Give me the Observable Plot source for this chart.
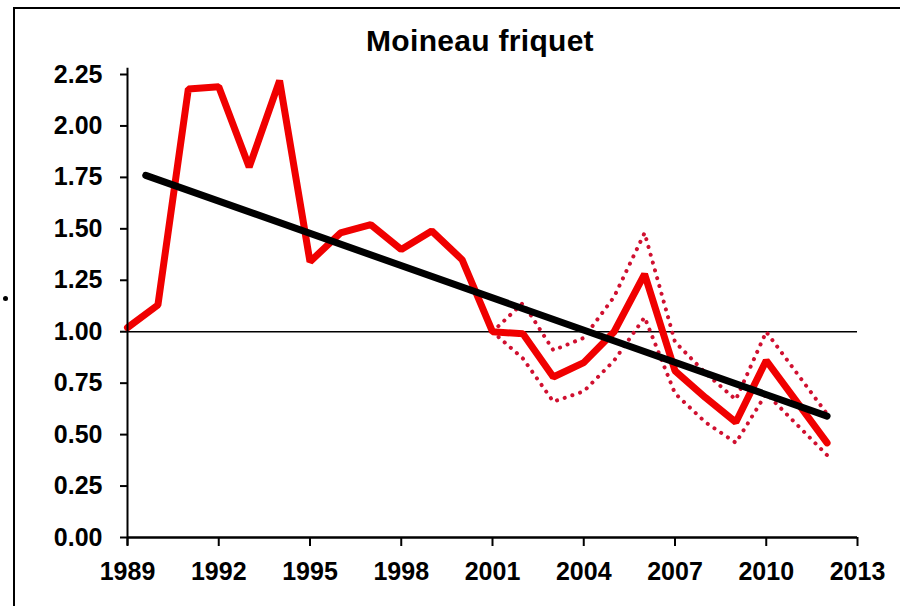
<!DOCTYPE html>
<html><head><meta charset="utf-8">
<script src="https://cdn.jsdelivr.net/npm/d3@7"></script>
<script src="https://cdn.jsdelivr.net/npm/@observablehq/plot@0.6"></script>
<style>
body{margin:0;background:#fff;font-family:"Liberation Sans",Arial,sans-serif;}
#wrap{position:relative;width:900px;height:606px;overflow:hidden;}
#frame{position:absolute;left:13px;top:7px;width:900px;height:620px;border-top:2px solid #000;border-left:2px solid #000;box-sizing:border-box;pointer-events:none;}
#dot{position:absolute;left:3px;top:296px;width:5px;height:5px;border-radius:50%;background:#000;}
#title{position:absolute;left:0;top:24px;width:960px;text-align:center;font-weight:bold;font-size:30px;letter-spacing:0.3px;line-height:34px;font-family:"Liberation Sans",Arial,sans-serif;}
#chart{position:absolute;left:0;top:60px;}
</style></head>
<body><div id="wrap"><div id="frame"></div><div id="dot"></div><div id="title">Moineau friquet</div><div id="chart"></div></div>
<script>
const years = [1989,1990,1991,1992,1993,1994,1995,1996,1997,1998,1999,2000,2001,2002,2003,2004,2005,2006,2007,2008,2009,2010,2011,2012];
const index = [1.02,1.13,2.18,2.19,1.80,2.22,1.34,1.48,1.52,1.40,1.49,1.35,1.00,0.99,0.78,0.85,1.00,1.28,0.81,0.68,0.56,0.86,0.66,0.46];
const ciYears = [2001,2002,2003,2004,2005,2006,2007,2008,2009,2010,2011,2012];
const upper = [1.00,1.14,0.91,0.97,1.17,1.48,0.95,0.80,0.67,1.00,0.80,0.60];
const lower = [1.00,0.87,0.66,0.71,0.86,1.07,0.70,0.56,0.46,0.70,0.55,0.40];
const trendYears = [1989.6,2012];
const trendValues = [1.76,0.59];
const xTicks = [1989,1992,1995,1998,2001,2004,2007,2010,2013];
const yTicks = [0,0.25,0.5,0.75,1,1.25,1.5,1.75,2,2.25];

const main = years.map((y,i)=>({year:y,v:index[i]}));
const up = ciYears.map((y,i)=>({year:y,v:upper[i]}));
const lo = ciYears.map((y,i)=>({year:y,v:lower[i]}));
const trend = trendYears.map((y,i)=>({year:y,v:trendValues[i]}));

const chart = Plot.plot({
  width: 900, height: 546,
  marginLeft: 127, marginRight: 43, marginTop: 14, marginBottom: 69,
  style: {fontFamily: '"Liberation Sans", Arial, sans-serif', fontWeight: "bold", color: "#000", background: "transparent"},
  x: {domain: [1989, 2013], label: null},
  y: {domain: [0, 2.25], label: null},
  marks: [
    Plot.axisX({ticks: xTicks, tickFormat: d => String(d), tickSize: 9, tickPadding: 16, fontSize: 25, fontWeight: "bold", strokeWidth: 2, label: null}),
    Plot.axisY({ticks: yTicks, tickFormat: d3.format(".2f"), tickSize: 7, tickPadding: 18, fontSize: 25, fontWeight: "bold", strokeWidth: 2, label: null}),
    Plot.ruleY([1], {x1: 1989, x2: 2013, stroke: "#000", strokeWidth: 1.5}),
    Plot.line(up, {x: "year", y: "v", stroke: "#d01030", strokeWidth: 4, strokeDasharray: "0.1 8", strokeLinecap: "round"}),
    Plot.line(lo, {x: "year", y: "v", stroke: "#d01030", strokeWidth: 4, strokeDasharray: "0.1 8", strokeLinecap: "round"}),
    Plot.line(main, {x: "year", y: "v", stroke: "#f00000", strokeWidth: 7, strokeLinejoin: "miter"}),
    Plot.line(trend, {x: "year", y: "v", stroke: "#000", strokeWidth: 7}),
    Plot.ruleX([1989], {y1: -0.04, y2: 2.28, stroke: "#000", strokeWidth: 2}),
    Plot.ruleY([0], {x1: 1989, x2: 2013, stroke: "#000", strokeWidth: 2.5})
  ]
});
document.getElementById("chart").appendChild(chart);
</script></body></html>
